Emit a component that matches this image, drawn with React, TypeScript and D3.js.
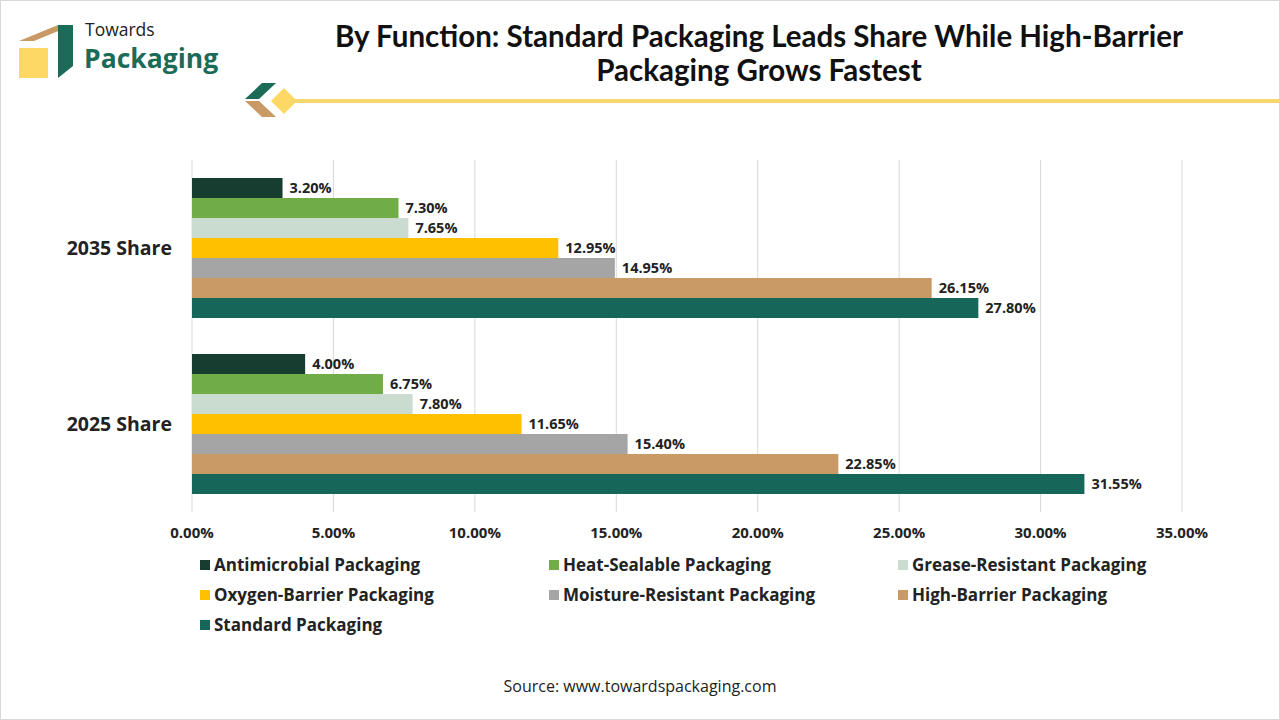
import React from 'react';
import * as d3 from 'd3';

const categories = ['2035 Share', '2025 Share'];
const seriesNames = [
  'Antimicrobial Packaging',
  'Heat-Sealable Packaging',
  'Grease-Resistant Packaging',
  'Oxygen-Barrier Packaging',
  'Moisture-Resistant Packaging',
  'High-Barrier Packaging',
  'Standard Packaging',
];
const values2035 = [3.2, 7.3, 7.65, 12.95, 14.95, 26.15, 27.8];
const values2025 = [4.0, 6.75, 7.8, 11.65, 15.4, 22.85, 31.55];
const colors = ['#173d31', '#70ad47', '#c9dccf', '#ffc000', '#a5a5a5', '#c99a66', '#17665a'];
const xTicks = [0, 5, 10, 15, 20, 25, 30, 35];

const W = 1280;
const H = 720;
const TITLE_FONT = 'Lato, "Open Sans", Arial, sans-serif';
const FONT = '"Open Sans", Arial, sans-serif';

const App = () => {
  const table = [values2035, values2025];
  const x = d3.scaleLinear().domain([0, 35]).range([192, 1182]);
  const y = d3.scaleBand().domain(categories).range([160, 512]);
  const inner = d3.scaleBand().domain(seriesNames).range([18, 158]).padding(0);

  return (
    <div style={{ position: 'fixed', left: 0, top: 0 }}>
      <svg width={W} height={H} style={{ display: 'block', background: '#fff' }}>
        <rect x={0.5} y={0.5} width={W - 1} height={H - 1} fill="#fff" stroke="#d9d9d9" />

        {/* logo */}
        <g>
          <polygon points="19,41 58,25 73,25 34,41" fill="#c99a66" />
          <rect x={19} y={48} width={29} height={30} fill="#fdd865" />
          <polygon points="58,25 73,25 73,66 58,78" fill="#1b6b58" />
          <text x={85} y={36} fontFamily={FONT} fontSize={17.5} fill="#222">Towards</text>
          <text x={84} y={68} fontFamily={FONT} fontSize={26.5} fontWeight={700} fill="#1b6b58">Packaging</text>
          <polygon points="245,99 262,83 276,83 259,99" fill="#1b6b58" />
          <polygon points="245,101 259,101 276,117 262,117" fill="#c99a66" />
          <polygon points="284,88 297,101 284,114 271,101" fill="#fdd865" />
          <rect x={290} y={99} width={990} height={4} fill="#f5d76e" />
        </g>

        <text x={759} y={47} textAnchor="middle" fontFamily={TITLE_FONT} fontWeight={700} fontSize={29.5} fill="#111">
          By Function: Standard Packaging Leads Share While High-Barrier
        </text>
        <text x={759} y={81} textAnchor="middle" fontFamily={TITLE_FONT} fontWeight={700} fontSize={29.5} fill="#111">
          Packaging Grows Fastest
        </text>

        {/* grid */}
        {xTicks.map((t) => (
          <g key={t}>
            <line x1={x(t)} x2={x(t)} y1={160} y2={512} stroke="#d9d9d9" />
            <text x={x(t)} y={538} textAnchor="middle" fontFamily={FONT} fontWeight={700} fontSize={15} fill="#222">
              {t.toFixed(2)}%
            </text>
          </g>
        ))}

        {categories.map((c, ci) => (
          <g key={c} transform={`translate(0,${y(c)})`}>
            <text x={172} y={y.bandwidth() / 2 + 7} textAnchor="end" fontFamily={FONT} fontWeight={700} fontSize={19.5} fill="#222">
              {c}
            </text>
            {seriesNames.map((s, si) => {
              const v = table[ci][si];
              const by = inner(s) as number;
              return (
                <g key={s}>
                  <rect x={x(0)} y={by} width={x(v) - x(0)} height={inner.bandwidth()} fill={colors[si]} />
                  <text x={x(v) + 7} y={by + inner.bandwidth() / 2 + 5} fontFamily={FONT} fontWeight={700} fontSize={14.5} fill="#222">
                    {v.toFixed(2)}%
                  </text>
                </g>
              );
            })}
          </g>
        ))}

        {/* legend */}
        {seriesNames.map((s, i) => {
          const lx = 200 + (i % 3) * 349;
          const ly = 565 + Math.floor(i / 3) * 30;
          return (
            <g key={s}>
              <rect x={lx} y={ly - 5} width={10} height={10} fill={colors[i]} />
              <text x={lx + 14} y={ly + 6} fontFamily={FONT} fontWeight={700} fontSize={17} fill="#222">{s}</text>
            </g>
          );
        })}

        <text x={640} y={692} textAnchor="middle" fontFamily={FONT} fontSize={16} fill="#222">
          Source: www.towardspackaging.com
        </text>
      </svg>
    </div>
  );
};

export default App;
